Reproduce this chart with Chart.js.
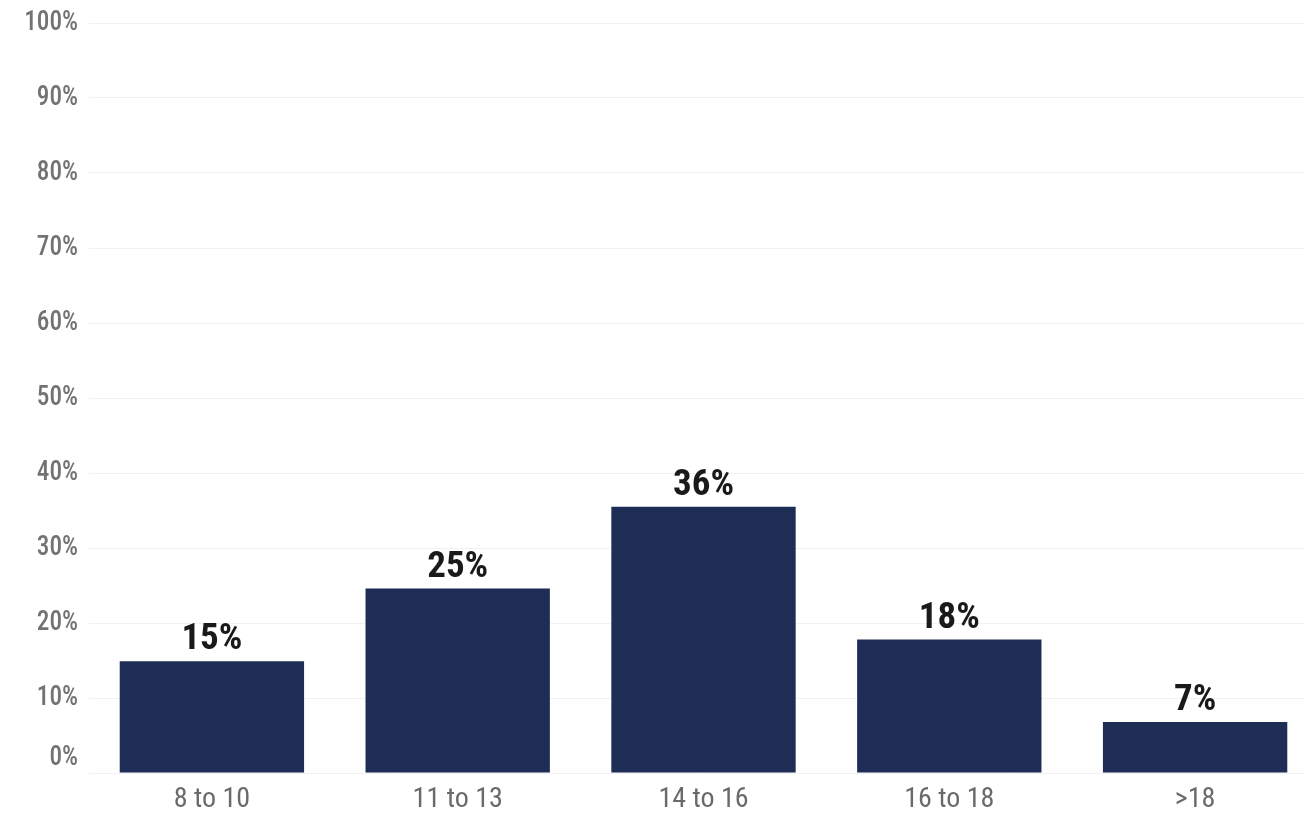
<!DOCTYPE html>
<html>
<head>
<meta charset="utf-8">
<script src="https://cdn.jsdelivr.net/npm/chart.js@4.4.1/dist/chart.umd.min.js"></script>
<style>
html,body{margin:0;padding:0;background:#fff;overflow:hidden;}
#wrap{position:relative;width:1318px;height:826px;}
</style>
</head>
<body>
<div id="wrap"><canvas id="c"></canvas></div>
<script>
const categories = ["8 to 10", "11 to 13", "14 to 16", "16 to 18", ">18"];
const values = [14.9, 24.6, 35.5, 17.8, 6.8];
const valueLabels = ["15%", "25%", "36%", "18%", "7%"];
const yTicks = [0, 10, 20, 30, 40, 50, 60, 70, 80, 90, 100];
const yTickLabels = ["0%", "10%", "20%", "30%", "40%", "50%", "60%", "70%", "80%", "90%", "100%"];

const FONT = "'Roboto Condensed', Roboto, sans-serif";

const labelPlugin = {
  id: 'labels',
  afterDatasetsDraw(chart) {
    const ctx = chart.ctx;
    const meta = chart.getDatasetMeta(0);
    ctx.save();
    ctx.font = "bold 37px " + FONT;
    ctx.fillStyle = "#1a1a1a";
    ctx.textAlign = "center";
    ctx.textBaseline = "alphabetic";
    meta.data.forEach((bar, i) => {
      ctx.fillText(valueLabels[i], bar.x, bar.y - 12);
    });
    ctx.restore();
    // y tick labels (slightly compressed horizontally)
    const ys = chart.scales.y;
    ctx.save();
    ctx.font = "500 28px " + FONT;
    ctx.fillStyle = "#737373";
    ctx.textAlign = "right";
    ctx.textBaseline = "middle";
    const sx = 0.9;
    ctx.scale(sx, 1);
    yTicks.forEach((v, i) => {
      let y = ys.getPixelForValue(v);
      if (v === 0) y -= 15;
      ctx.fillText(yTickLabels[i], 78 / sx, y);
    });
    ctx.restore();
  }
};

new Chart(document.getElementById('c'), {
  type: 'bar',
  data: {
    labels: categories,
    datasets: [{
      data: values,
      backgroundColor: '#1e2d56',
      borderWidth: 0,
      barPercentage: 0.75,
      categoryPercentage: 1.0
    }]
  },
  options: {
    responsive: true,
    maintainAspectRatio: false,
    animation: false,
    layout: { padding: { top: 23, left: 0, right: 0, bottom: 0 } },
    plugins: { legend: { display: false }, tooltip: { enabled: false } },
    scales: {
      x: {
        grid: { display: false, drawTicks: false },
        border: { display: false },
        ticks: {
          font: { family: FONT, size: 28, weight: 400 },
          color: '#6a6a6a',
          padding: 10
        },
        afterFit(s) { s.height = 53; }
      },
      y: {
        min: 0, max: 100,
        afterBuildTicks(s) { s.ticks = yTicks.map(v => ({ value: v })); },
        grid: { color: '#f1f1f1', lineWidth: 1, drawTicks: false },
        border: { display: false },
        ticks: { display: false },
        afterFit(s) { s.width = 89; }
      }
    }
  },
  plugins: [labelPlugin]
});
</script>
</body>
</html>
